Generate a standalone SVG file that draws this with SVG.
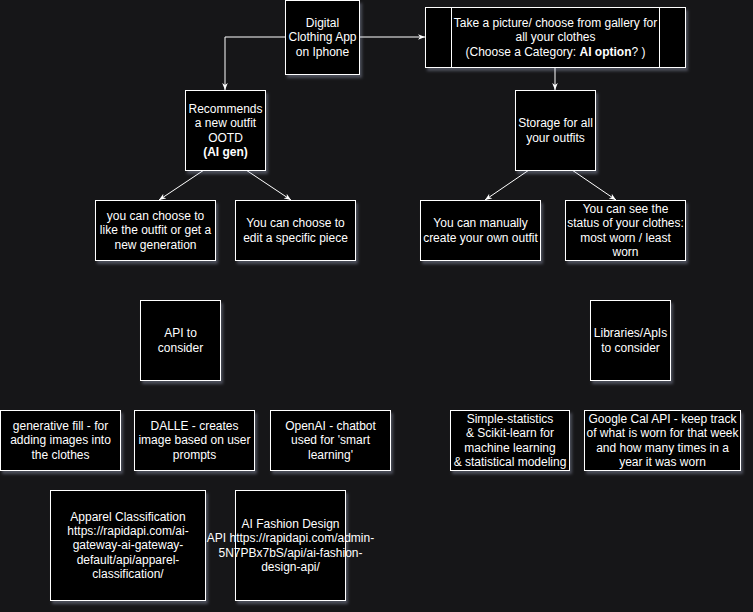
<svg xmlns="http://www.w3.org/2000/svg" width="753" height="612" viewBox="0 0 753 612">
<defs>
<style>
.bg{fill:#161618}
.n{fill:#000;stroke:#fff;stroke-width:1;filter:url(#sh)}
.ln{fill:none;stroke:#fff;stroke-width:1}
.e{fill:none;stroke:#fff;stroke-width:1;marker-end:url(#ah)}
text{font-family:"Liberation Sans",Arial,Helvetica,sans-serif;font-size:12px;fill:#fff;text-anchor:middle}
.b{font-weight:bold}
</style>
<filter id="sh" x="-20%" y="-20%" width="150%" height="150%">
<feDropShadow dx="2" dy="3" stdDeviation="1.5" flood-color="#c8d0f0" flood-opacity="0.3"/>
</filter>
<marker id="ah" viewBox="0 0 10 10" refX="10" refY="5" markerWidth="7" markerHeight="7" markerUnits="userSpaceOnUse" orient="auto">
<path d="M0,1 L10,5 L0,9 L3,5 z" fill="#fff"/>
</marker>
</defs>
<rect class="bg" x="0" y="0" width="753" height="612"/>

<g id="connectors">
<path class="e" d="M359,37 H425"/>
<path class="e" d="M285,37 H225 V90"/>
<path class="e" d="M555,67 V90"/>
<path class="e" d="M204,170 L159,200"/>
<path class="e" d="M246,170 L291,200"/>
<path class="e" d="M529,170 L485,200"/>
<path class="e" d="M572,170 L616,200"/>
</g>

<g id="digital-app">
<rect class="n" x="285.5" y="0.5" width="74" height="74"/>
<text x="322.5" y="27">Digital</text>
<text x="322.5" y="41.4">Clothing App</text>
<text x="322.5" y="55.8">on Iphone</text>
</g>

<g id="take-picture">
<rect class="n" x="425.5" y="7.5" width="260" height="60"/>
<path class="ln" d="M451.5,7.5 V67.5 M659.5,7.5 V67.5"/>
<text x="555.5" y="27">Take a picture/ choose from gallery for</text>
<text x="555.5" y="41.4">all your clothes</text>
<text x="555.5" y="55.8">(Choose a Category: <tspan class="b">AI option</tspan>? )</text>
</g>

<g id="recommends">
<rect class="n" x="185.5" y="90.5" width="80" height="80"/>
<text x="225.5" y="112.8">Recommends</text>
<text x="225.5" y="127.2">a new outfit</text>
<text x="225.5" y="141.6">OOTD</text>
<text x="225.5" y="156" class="b">(AI gen)</text>
</g>

<g id="storage">
<rect class="n" x="515.5" y="90.5" width="80" height="80"/>
<text x="555.5" y="127.2">Storage for all</text>
<text x="555.5" y="141.6">your outfits</text>
</g>

<g id="like-outfit">
<rect class="n" x="95.5" y="200.5" width="120" height="60"/>
<text x="155.5" y="220">you can choose to</text>
<text x="155.5" y="234.4">like the outfit or get a</text>
<text x="155.5" y="248.8">new generation</text>
</g>

<g id="edit-piece">
<rect class="n" x="235.5" y="200.5" width="120" height="60"/>
<text x="295.5" y="227.2">You can choose to</text>
<text x="295.5" y="241.6">edit a specific piece</text>
</g>

<g id="manual-outfit">
<rect class="n" x="420.5" y="200.5" width="120" height="60"/>
<text x="480.5" y="227.2">You can manually</text>
<text x="480.5" y="241.6">create your own outfit</text>
</g>

<g id="status">
<rect class="n" x="565.5" y="200.5" width="120" height="60"/>
<text x="625.5" y="212.8">You can see the</text>
<text x="625.5" y="227.2">status of your clothes:</text>
<text x="625.5" y="241.6">most worn / least</text>
<text x="625.5" y="256">worn</text>
</g>

<g id="api-consider">
<rect class="n" x="140.5" y="300.5" width="80" height="80"/>
<text x="180.5" y="337.2">API to</text>
<text x="180.5" y="351.6">consider</text>
</g>

<g id="libraries-consider">
<rect class="n" x="590.5" y="300.5" width="80" height="80"/>
<text x="630.5" y="337.2">Libraries/ApIs</text>
<text x="630.5" y="351.6">to consider</text>
</g>

<g id="generative-fill">
<rect class="n" x="0.5" y="410.5" width="120" height="60"/>
<text x="60.5" y="430">generative fill - for</text>
<text x="60.5" y="444.4">adding images into</text>
<text x="60.5" y="458.8">the clothes</text>
</g>

<g id="dalle">
<rect class="n" x="134.5" y="410.5" width="120" height="60"/>
<text x="194.5" y="430">DALLE - creates</text>
<text x="194.5" y="444.4">image based on user</text>
<text x="194.5" y="458.8">prompts</text>
</g>

<g id="openai">
<rect class="n" x="270.5" y="410.5" width="120" height="60"/>
<text x="330.5" y="430">OpenAI - chatbot</text>
<text x="330.5" y="444.4">used for 'smart</text>
<text x="330.5" y="458.8">learning'</text>
</g>

<g id="simple-statistics">
<rect class="n" x="450.5" y="410.5" width="119" height="60"/>
<text x="510" y="422.8">Simple-statistics</text>
<text x="510" y="437.2">&amp; Scikit-learn for</text>
<text x="510" y="451.6">machine learning</text>
<text x="510" y="466">&amp; statistical modeling</text>
</g>

<g id="google-cal">
<rect class="n" x="584.5" y="410.5" width="156" height="60"/>
<text x="662.5" y="422.8">Google Cal API - keep track</text>
<text x="662.5" y="437.2">of what is worn for that week</text>
<text x="662.5" y="451.6">and how many times in a</text>
<text x="662.5" y="466">year it was worn</text>
</g>

<g id="apparel-classification">
<rect class="n" x="50.5" y="490.5" width="155" height="110"/>
<text x="128" y="520.6">Apparel Classification</text>
<text x="128" y="535">https://rapidapi.com/ai-</text>
<text x="128" y="549.4">gateway-ai-gateway-</text>
<text x="128" y="563.8">default/api/apparel-</text>
<text x="128" y="578.2">classification/</text>
</g>

<g id="ai-fashion-design">
<rect class="n" x="235.5" y="490.5" width="110" height="110"/>
<text x="290.5" y="527.8">AI Fashion Design</text>
<text x="290.5" y="542.2">API https://rapidapi.com/admin-</text>
<text x="290.5" y="556.6">5N7PBx7bS/api/ai-fashion-</text>
<text x="290.5" y="571">design-api/</text>
</g>
</svg>
